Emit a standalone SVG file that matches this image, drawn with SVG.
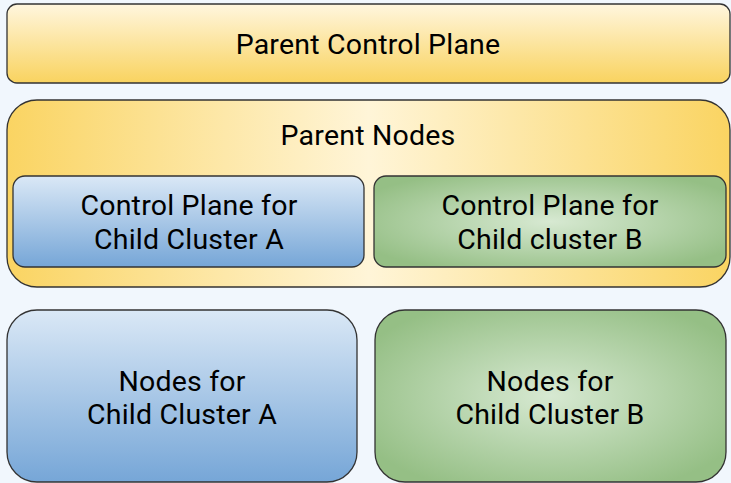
<svg xmlns="http://www.w3.org/2000/svg" width="731" height="483" viewBox="0 0 731 483">
  <defs>
    <linearGradient id="gYellowV" x1="0" y1="0" x2="0" y2="1">
      <stop offset="0" stop-color="#fff6de"/>
      <stop offset="1" stop-color="#f9d35f"/>
    </linearGradient>
    <linearGradient id="gYellowH" x1="0" y1="0" x2="1" y2="0">
      <stop offset="0" stop-color="#fad462"/>
      <stop offset="0.5" stop-color="#fff5d8"/>
      <stop offset="1" stop-color="#fad462"/>
    </linearGradient>
    <linearGradient id="gBlue" x1="0" y1="0" x2="0" y2="1">
      <stop offset="0" stop-color="#dae8f6"/>
      <stop offset="1" stop-color="#76a6d7"/>
    </linearGradient>
    <radialGradient id="gGreen" cx="0.5" cy="0.5" r="0.6">
      <stop offset="0" stop-color="#d7e9d2"/>
      <stop offset="1" stop-color="#95bf85"/>
    </radialGradient>
  </defs>
  <style>
    .box { stroke: #333333; stroke-width: 1.3; }
    .label { font-family: Roboto, "Liberation Sans", sans-serif; font-size: 28.5px; letter-spacing: 0.2px; fill: #000000; text-anchor: middle; }
  </style>
  <rect width="731" height="483" fill="#f1f7fd"/>

  <g id="parent-control-plane">
    <rect class="box" x="7" y="4" width="723" height="79" rx="10" fill="url(#gYellowV)"/>
    <text class="label" x="368" y="54">Parent Control Plane</text>
  </g>

  <g id="parent-nodes">
    <rect class="box" x="7" y="100" width="723" height="187" rx="30" fill="url(#gYellowH)"/>
    <text class="label" x="368" y="145">Parent Nodes</text>
  </g>

  <g id="control-plane-a">
    <rect class="box" x="13" y="176" width="351" height="91" rx="12" fill="url(#gBlue)"/>
    <text class="label" x="189" y="215">Control Plane for</text>
    <text class="label" x="189" y="249">Child Cluster A</text>
  </g>

  <g id="control-plane-b">
    <rect class="box" x="374" y="176" width="352" height="91" rx="12" fill="url(#gGreen)"/>
    <text class="label" x="550" y="215">Control Plane for</text>
    <text class="label" x="550" y="249">Child cluster B</text>
  </g>

  <g id="nodes-a">
    <rect class="box" x="7" y="310" width="350" height="172" rx="30" fill="url(#gBlue)"/>
    <text class="label" x="182" y="391">Nodes for</text>
    <text class="label" x="182" y="424">Child Cluster A</text>
  </g>

  <g id="nodes-b">
    <rect class="box" x="375" y="310" width="351" height="172" rx="30" fill="url(#gGreen)"/>
    <text class="label" x="550" y="391">Nodes for</text>
    <text class="label" x="550" y="424">Child Cluster B</text>
  </g>

  <g id="connectors"/>
</svg>
